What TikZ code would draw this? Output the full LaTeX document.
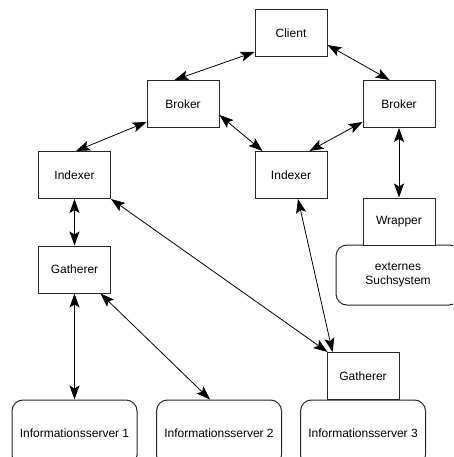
\documentclass[tikz,border=0pt]{standalone}
\usepackage{fontspec}
\setmainfont{Liberation Sans}
\usetikzlibrary{arrows.meta,calc}
\begin{document}
\begin{tikzpicture}[x=1pt,y=-1pt,
  box/.style={draw=black!85,line width=1pt,fill=white,minimum width=72pt,minimum height=47pt,inner sep=0pt,font=\fontsize{12}{14}\selectfont},
  rbox/.style={box,rounded corners=11pt,align=center},
  tip/.tip={Stealth[length=14pt,width=10pt,inset=3pt]},
  link/.style={line width=0.8pt,tip-tip}]
\useasboundingbox (0,0) rectangle (453,457);
\clip (0,0) rectangle (453,457);
\fill[white] (0,0) rectangle (453,457);

% boxes
\node[box] (client) at (291,33) {Client};
\node[box] (brokerL) at (183,104) {Broker};
\node[box] (brokerR) at (399,104) {Broker};
\node[box] (indexerL) at (74.5,175) {Indexer};
\node[box] (indexerM) at (291,175) {Indexer};
\node[rbox,minimum width=124pt,minimum height=60pt] (ext) at (398,275) {externes\\Suchsystem};
\node[box] (wrapper) at (399,221.5) {Wrapper};
\node[box] (gathL) at (74.5,269.5) {Gatherer};
\node[rbox,minimum width=125pt,minimum height=66pt] (info1) at (74.5,433) {Informationsserver 1};
\node[rbox,minimum width=125pt,minimum height=66pt] (info2) at (219,433) {Informationsserver 2};
\node[rbox,minimum width=125pt,minimum height=66pt] (info3) at (363,433) {Informationsserver 3};
\node[box] (gathR) at (363,376) {Gatherer};

% connectors
\draw[link] ($(brokerL.north west)+(28,0)$) -- ($(client.south west)+(0,-5)$);
\draw[link] ($(client.south east)+(0,-12)$) -- ($(brokerR.north west)+(27,0)$);
\draw[link] ($(brokerL.south west)+(0,-6)$) -- ($(indexerL.north)+(1.5,0)$);
\draw[link] ($(brokerL.south east)+(0,-13)$) -- ($(indexerM.north west)+(8,0)$);
\draw[link] ($(brokerR.south west)+(0,-6)$) -- ($(indexerM.north east)+(-18,0)$);
\draw[link] (brokerR.south) -- (wrapper.north);
\draw[link] (indexerL.south) -- (gathL.north);
\draw[link] (indexerL.south east) -- ($(gathR.north west)+(1,0)$);
\draw[link] ($(indexerM.south)+(7,0)$) -- ($(gathR.north west)+(6,0)$);
\draw[link] (gathL.south) -- (info1.north);
\draw[link] ($(gathL.south)+(26,0)$) -- ($(info2.north)+(-9,0)$);
\end{tikzpicture}
\end{document}
